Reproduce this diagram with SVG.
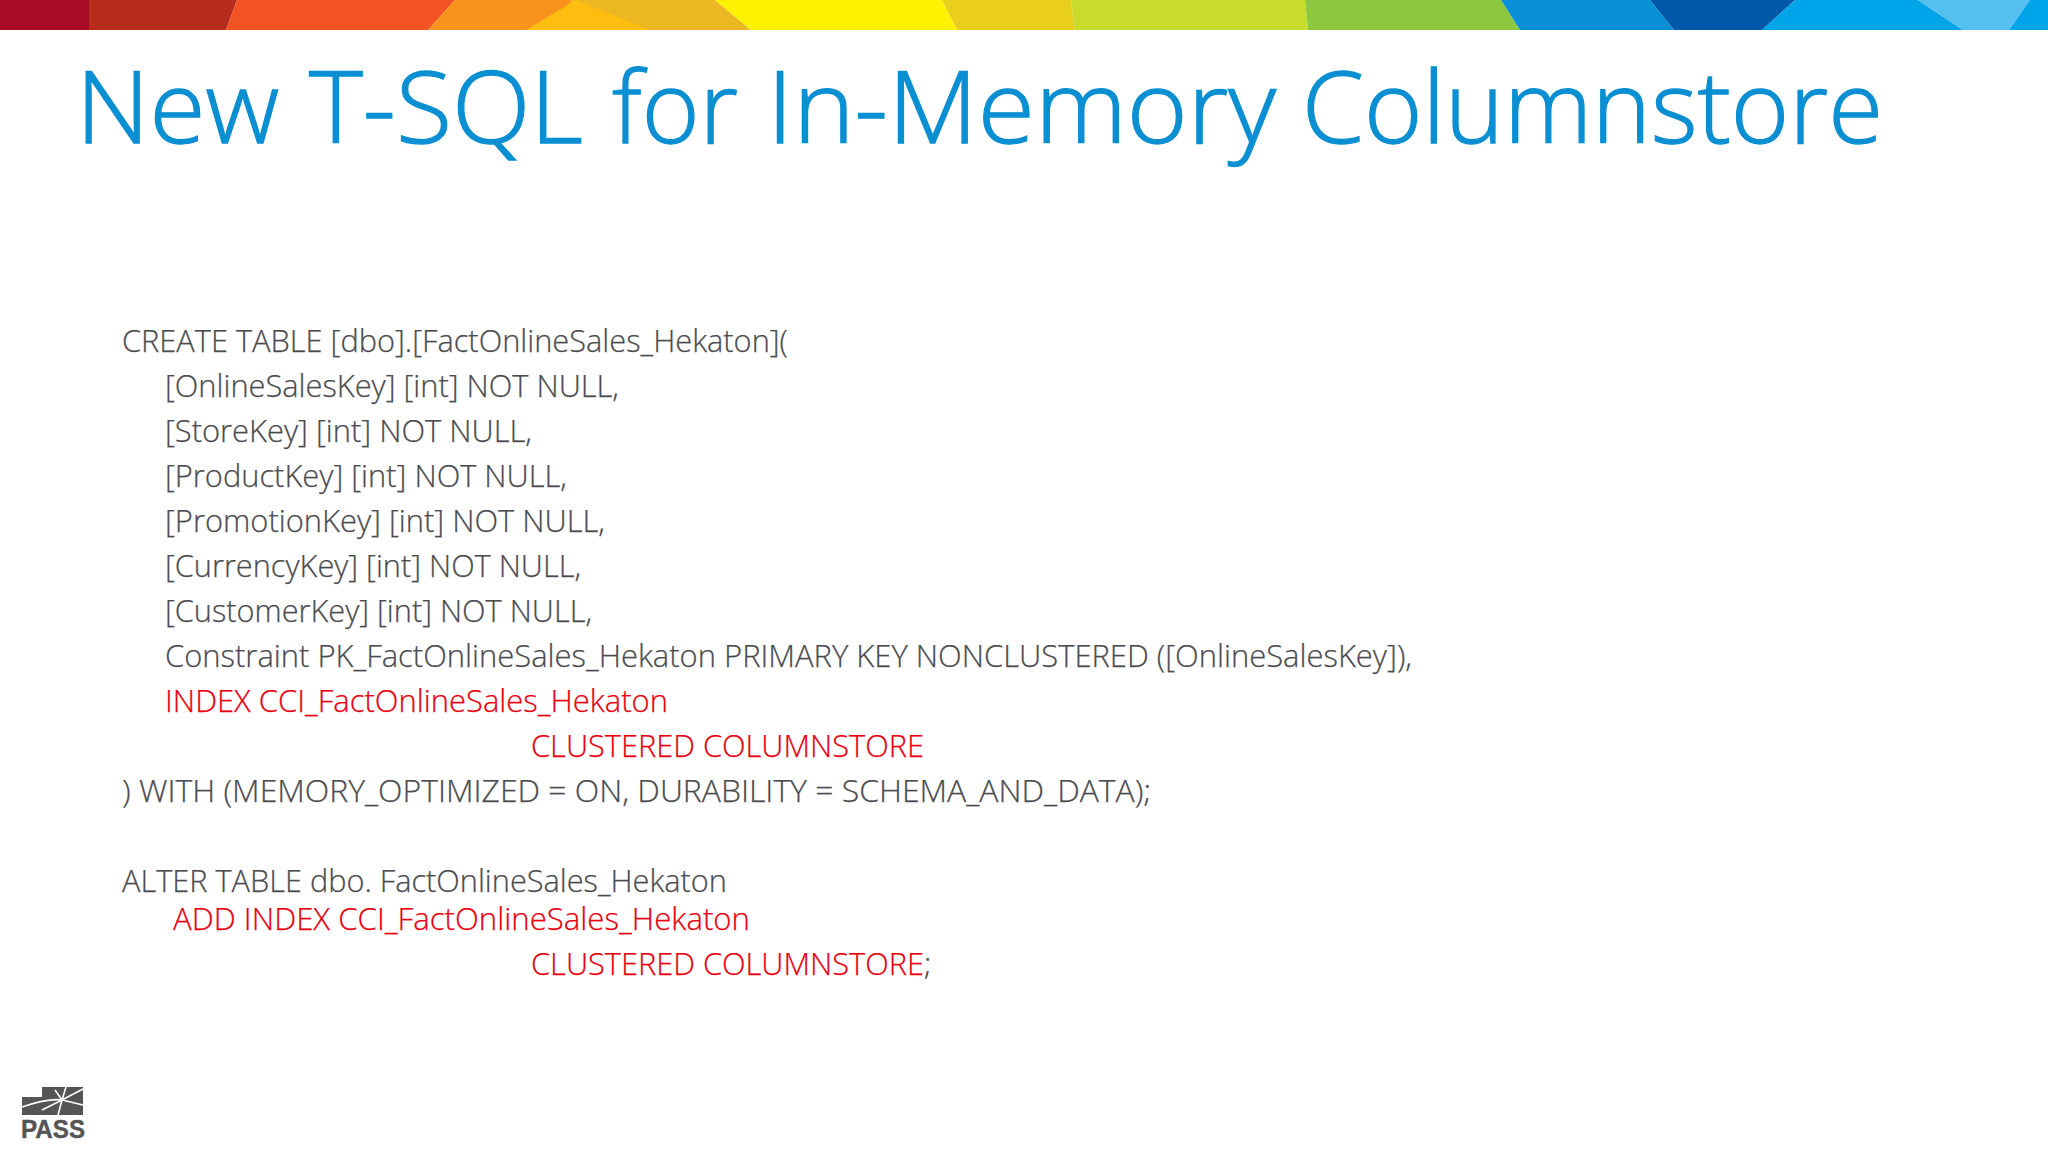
<svg xmlns="http://www.w3.org/2000/svg" width="2048" height="1152" viewBox="0 0 2048 1152">
<style>
text{font-family:"Open Sans","Noto Sans","Liberation Sans",sans-serif;font-weight:300}
.c{font-size:31px;fill:#4c4c50;stroke:#4c4c50;stroke-width:.25}
.r{font-size:31px;fill:#e8000f;stroke:#e8000f;stroke-width:.25}
.t{font-size:100px;fill:#0a8fd2;stroke:#0a8fd2;stroke-width:1.3}
.p{font-family:"Liberation Sans",Arial,sans-serif;font-weight:700;font-size:26px;fill:#555;stroke:#555;stroke-width:.4}
</style>
<rect width="2048" height="1152" fill="#fff"/>
<g id="banner">
<rect x="0" y="0" width="90" height="30" fill="#a90a26"/>
<polygon points="89,0 237,0 226,30 89,30" fill="#b82c1c"/>
<polygon points="237,0 455,0 428,30 226,30" fill="#f15323"/>
<polygon points="455,0 580,0 530,30 428,30" fill="#fa921e"/>
<polygon points="571,0 715,0 751,30 650,30 560,30" fill="#ebb722"/>
<polygon points="576,0 650,30 526,30" fill="#ffbd10"/>
<polygon points="715,0 942,0 957,30 751,30" fill="#fff200"/>
<polygon points="942,0 1071,0 1075,30 957,30" fill="#e9cf1c"/>
<polygon points="1071,0 1305,0 1308,30 1075,30" fill="#c9dc2c"/>
<polygon points="1305,0 1501,0 1520,30 1308,30" fill="#8cc83f"/>
<polygon points="1501,0 1650,0 1674,30 1520,30" fill="#0a90d6"/>
<polygon points="1650,0 1795,0 1762,30 1674,30" fill="#0058a8"/>
<polygon points="1795,0 1918,0 1963,30 1762,30" fill="#00a4e8"/>
<polygon points="1918,0 2030,0 2009,30 1963,30" fill="#55c0f0"/>
<polygon points="2030,0 2048,0 2048,30 2009,30" fill="#00a4e8"/>
</g>
<g id="title">
<text class="t" x="76" y="143" textLength="203" lengthAdjust="spacingAndGlyphs">New</text>
<text class="t" x="309" y="143" textLength="274" lengthAdjust="spacingAndGlyphs">T-SQL</text>
<text class="t" x="612" y="143" textLength="126" lengthAdjust="spacingAndGlyphs">for</text>
<text class="t" x="767" y="143" textLength="509" lengthAdjust="spacingAndGlyphs">In-Memory</text>
<text class="t" x="1302" y="143" textLength="581" lengthAdjust="spacingAndGlyphs">Columnstore</text>
</g>
<g id="code">
<text class="c" x="122" y="352" textLength="666" lengthAdjust="spacingAndGlyphs">CREATE TABLE [dbo].[FactOnlineSales_Hekaton](</text>
<text class="c" x="165" y="397" textLength="454" lengthAdjust="spacingAndGlyphs">[OnlineSalesKey] [int] NOT NULL,</text>
<text class="c" x="165" y="442" textLength="367" lengthAdjust="spacingAndGlyphs">[StoreKey] [int] NOT NULL,</text>
<text class="c" x="165" y="487" textLength="402" lengthAdjust="spacingAndGlyphs">[ProductKey] [int] NOT NULL,</text>
<text class="c" x="165" y="532" textLength="440" lengthAdjust="spacingAndGlyphs">[PromotionKey] [int] NOT NULL,</text>
<text class="c" x="165" y="577" textLength="416" lengthAdjust="spacingAndGlyphs">[CurrencyKey] [int] NOT NULL,</text>
<text class="c" x="165" y="622" textLength="427" lengthAdjust="spacingAndGlyphs">[CustomerKey] [int] NOT NULL,</text>
<text class="c" x="165" y="667" textLength="1247" lengthAdjust="spacingAndGlyphs">Constraint PK_FactOnlineSales_Hekaton PRIMARY KEY NONCLUSTERED ([OnlineSalesKey]),</text>
<text class="r" x="165" y="712" textLength="503" lengthAdjust="spacingAndGlyphs">INDEX CCI_FactOnlineSales_Hekaton</text>
<text class="r" x="531" y="757" textLength="393" lengthAdjust="spacingAndGlyphs">CLUSTERED COLUMNSTORE</text>
<text class="c" x="122" y="802" textLength="1029" lengthAdjust="spacingAndGlyphs">) WITH (MEMORY_OPTIMIZED = ON, DURABILITY = SCHEMA_AND_DATA);</text>
<text class="c" x="122" y="892" textLength="605" lengthAdjust="spacingAndGlyphs">ALTER TABLE dbo. FactOnlineSales_Hekaton</text>
<text class="r" x="173" y="930" textLength="577" lengthAdjust="spacingAndGlyphs">ADD INDEX CCI_FactOnlineSales_Hekaton</text>
<text class="r" x="531" y="975" textLength="393" lengthAdjust="spacingAndGlyphs">CLUSTERED COLUMNSTORE</text>
<text class="c" x="924" y="975">;</text>
</g>
<g id="logo">
<polygon points="22,1097 42,1097 42,1087 83,1087 83,1115 22,1115" fill="#555"/>
<path d="M22,1107 C40,1101 55,1099 62,1100 L83,1089 M62,1100 L83,1105 M62,1100 L58,1115 M62,1100 L66,1087 M62,1100 L42,1110 M62,1100 L55,1090" stroke="#fff" stroke-width="1.6" fill="none"/>
<text class="p" x="21" y="1138" textLength="64" lengthAdjust="spacingAndGlyphs">PASS</text>
</g>
</svg>
